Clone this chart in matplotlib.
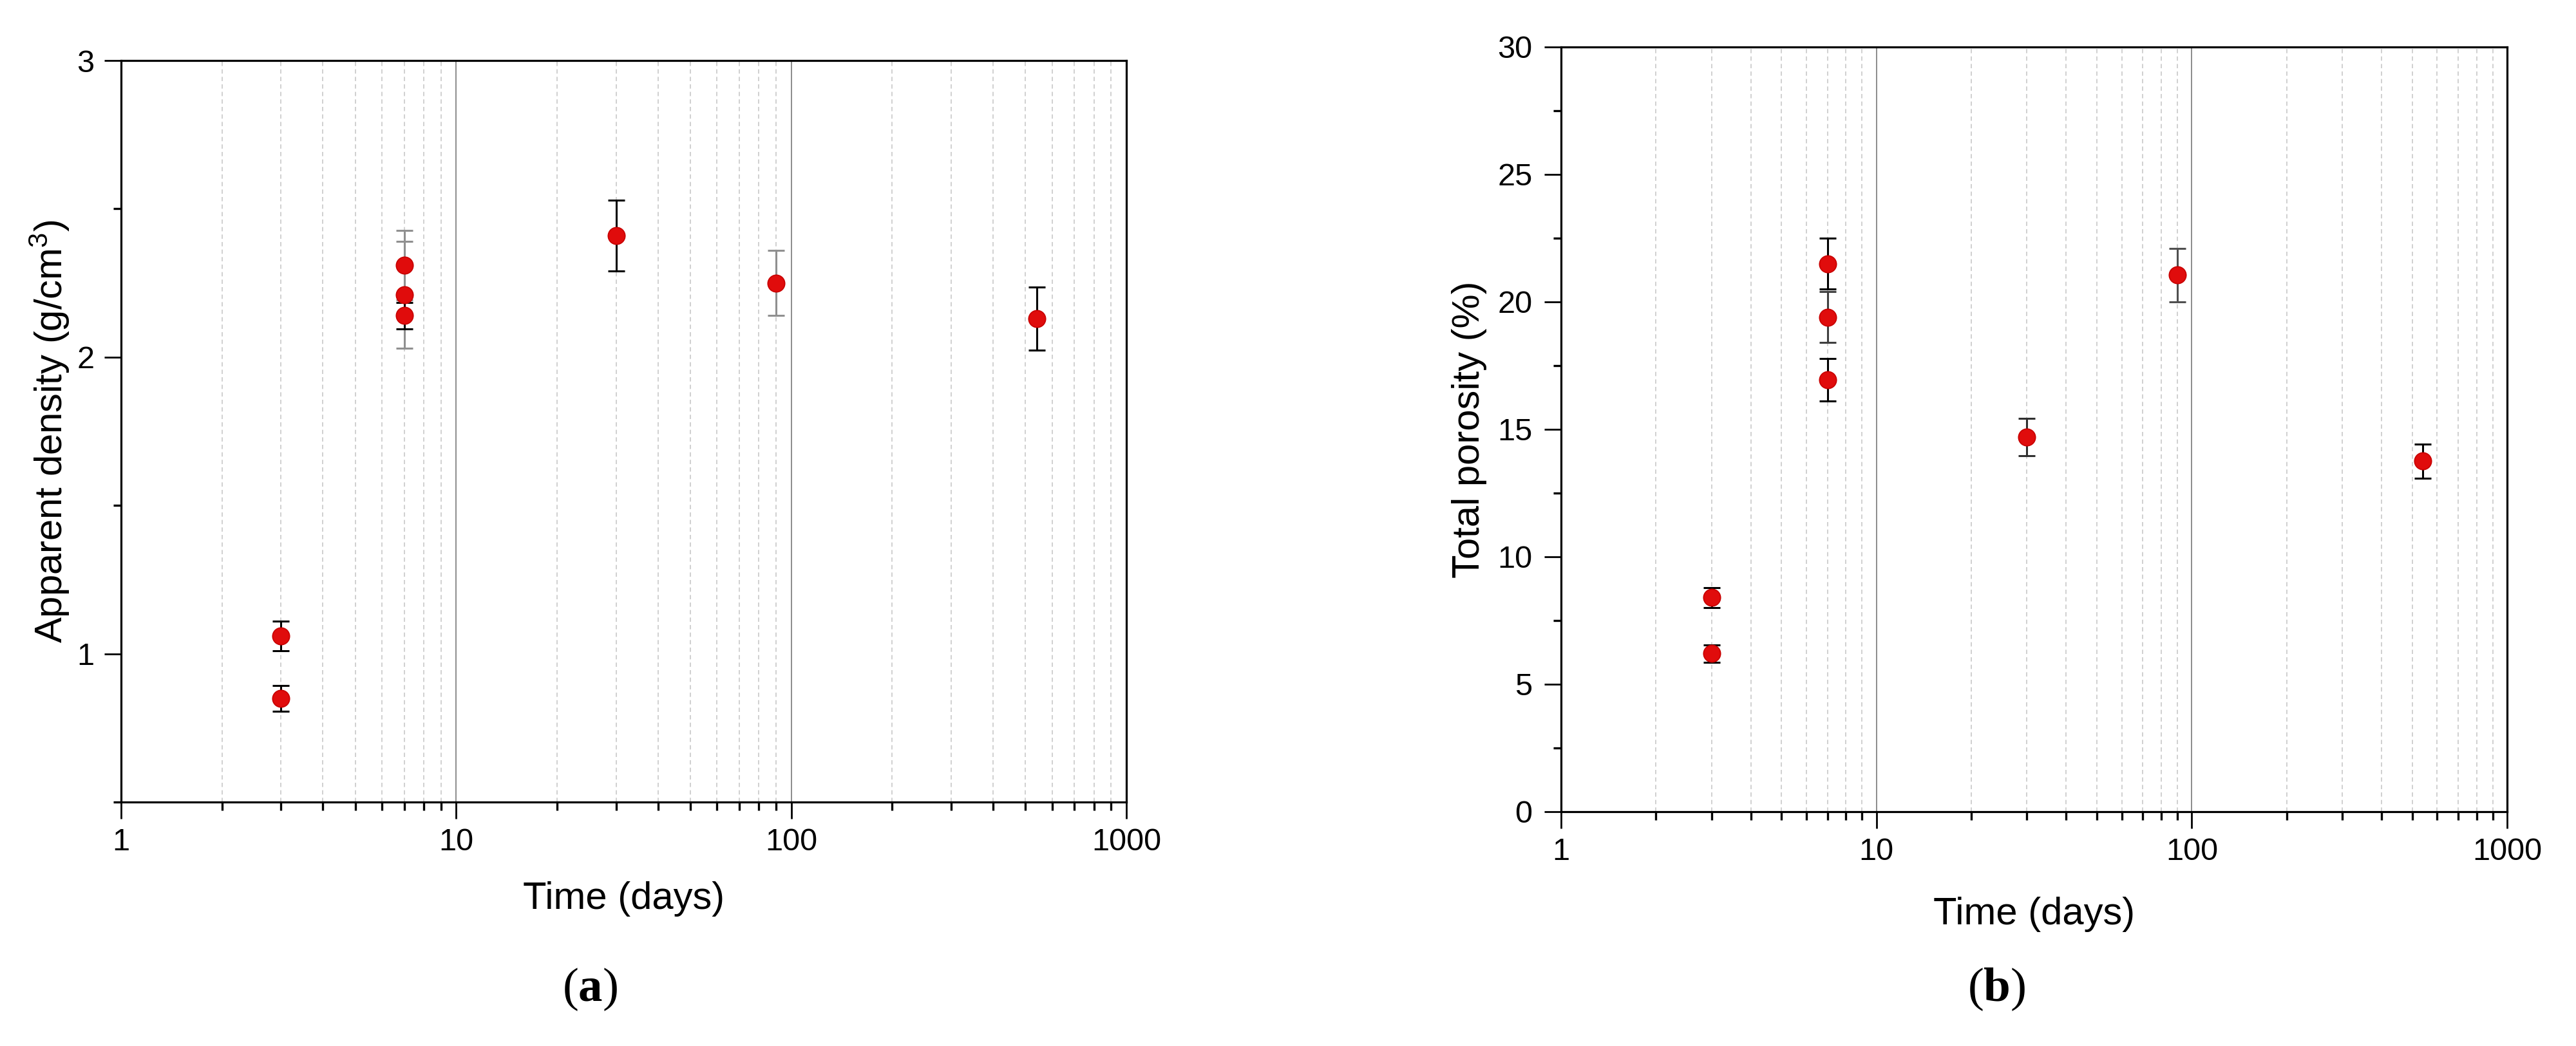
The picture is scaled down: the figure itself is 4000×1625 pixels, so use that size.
import matplotlib
matplotlib.use("Agg")
import matplotlib.pyplot as plt
from matplotlib.ticker import LogLocator, FixedLocator, NullFormatter, FixedFormatter

plt.rcParams['font.family'] = ['Liberation Sans', 'DejaVu Sans']
plt.rcParams['mathtext.fontset'] = 'custom'
plt.rcParams['mathtext.rm'] = 'Liberation Serif'
plt.rcParams['mathtext.bf'] = 'Liberation Serif:bold'
plt.rcParams['mathtext.default'] = 'regular'

# (a) apparent density
days_a = [3, 3, 7, 7, 7, 30, 90, 540]
density = [1.06, 0.85, 2.31, 2.21, 2.14, 2.41, 2.25, 2.13]
density_err = [0.05, 0.043, 0.117, 0.18, 0.045, 0.12, 0.11, 0.106]
err_col_a = ['black', 'black', '#909090', '#909090', 'black', 'black', '#909090', 'black']

# (b) total porosity
days_b = [3, 3, 7, 7, 7, 30, 90, 540]
porosity = [8.4, 6.2, 21.5, 19.4, 16.95, 14.7, 21.05, 13.75]
porosity_err = [0.4, 0.35, 1.0, 1.0, 0.83, 0.73, 1.05, 0.68]
err_col_b = ['black', 'black', 'black', '#404040', 'black', '#303030', '#505050', 'black']

fig = plt.figure(figsize=(40, 16.25), dpi=100)
ax1 = fig.add_axes([0.047, 0.23323, 0.39025, 0.70892])
ax2 = fig.add_axes([0.606, 0.224, 0.36725, 0.73108])


def style(ax):
    ax.set_xscale('log')
    ax.set_xlim(1, 1000)
    ax.xaxis.set_major_locator(FixedLocator([1, 10, 100, 1000]))
    ax.xaxis.set_major_formatter(FixedFormatter(['1', '10', '100', '1000']))
    ax.xaxis.set_minor_locator(LogLocator(base=10, subs=range(2, 10)))
    ax.xaxis.set_minor_formatter(NullFormatter())
    ax.grid(True, which='major', axis='x', color='#8c8c8c', lw=1.4, ls='-', zorder=0)
    ax.grid(True, which='minor', axis='x', color='#c8c8c8', lw=1.2, ls=(0, (4, 3)), zorder=0)
    for s in ax.spines.values():
        s.set_linewidth(2.3)
        s.set_zorder(5)
    ax.tick_params(which='major', direction='out', length=19, width=2.0, labelsize=35, pad=10,
                   top=False, right=False)
    ax.tick_params(which='minor', direction='out', length=9, width=2.4, top=False, right=False)
    ax.tick_params(axis='y', which='major', pad=11)
    ax.xaxis.label.set_va('center')
    ax.yaxis.label.set_va('center')


def draw(ax, x, y, e, cols):
    for xi, yi, ei, c in zip(x, y, e, cols):
        ax.errorbar(xi, yi, yerr=ei, fmt='none', ecolor=c, elinewidth=2.2,
                    capsize=9.5, capthick=2.2, zorder=3)
    ax.plot(x, y, 'o', color='#e00c0c', markeredgecolor='#c80000', markersize=19,
            markeredgewidth=1.2, zorder=4, ls='none')


draw(ax1, days_a, density, density_err, err_col_a)
style(ax1)
ax1.set_ylim(0.5, 3)
ax1.set_yticks([1, 2, 3])
ax1.set_yticks([0.5, 1.5, 2.5], minor=True)
ax1.set_xlabel('Time (days)', fontsize=43)
ax1.set_ylabel('Apparent density (g/cm$^3$)', fontsize=43)
ax1.xaxis.set_label_coords(0.5, -0.131)
ax1.yaxis.set_label_coords(-0.0705, 0.5)

draw(ax2, days_b, porosity, porosity_err, err_col_b)
style(ax2)
ax2.set_ylim(0, 30)
ax2.set_yticks(range(0, 31, 5))
ax2.set_yticks([2.5, 7.5, 12.5, 17.5, 22.5, 27.5], minor=True)
ax2.tick_params(axis='y', which='major', pad=13)
ax2.set_xlabel('Time (days)', fontsize=43)
ax2.set_ylabel('Total porosity (%)', fontsize=43)
ax2.xaxis.set_label_coords(0.5, -0.134)
ax2.yaxis.set_label_coords(-0.0967, 0.5)

fig.text(0.229, 0.054, r'($\mathbf{a}$)', fontsize=54, family='Liberation Serif',
         ha='center', va='center')
fig.text(0.775, 0.054, r'($\mathbf{b}$)', fontsize=54, family='Liberation Serif',
         ha='center', va='center')

fig.savefig('out.png', dpi=100, facecolor='white')
